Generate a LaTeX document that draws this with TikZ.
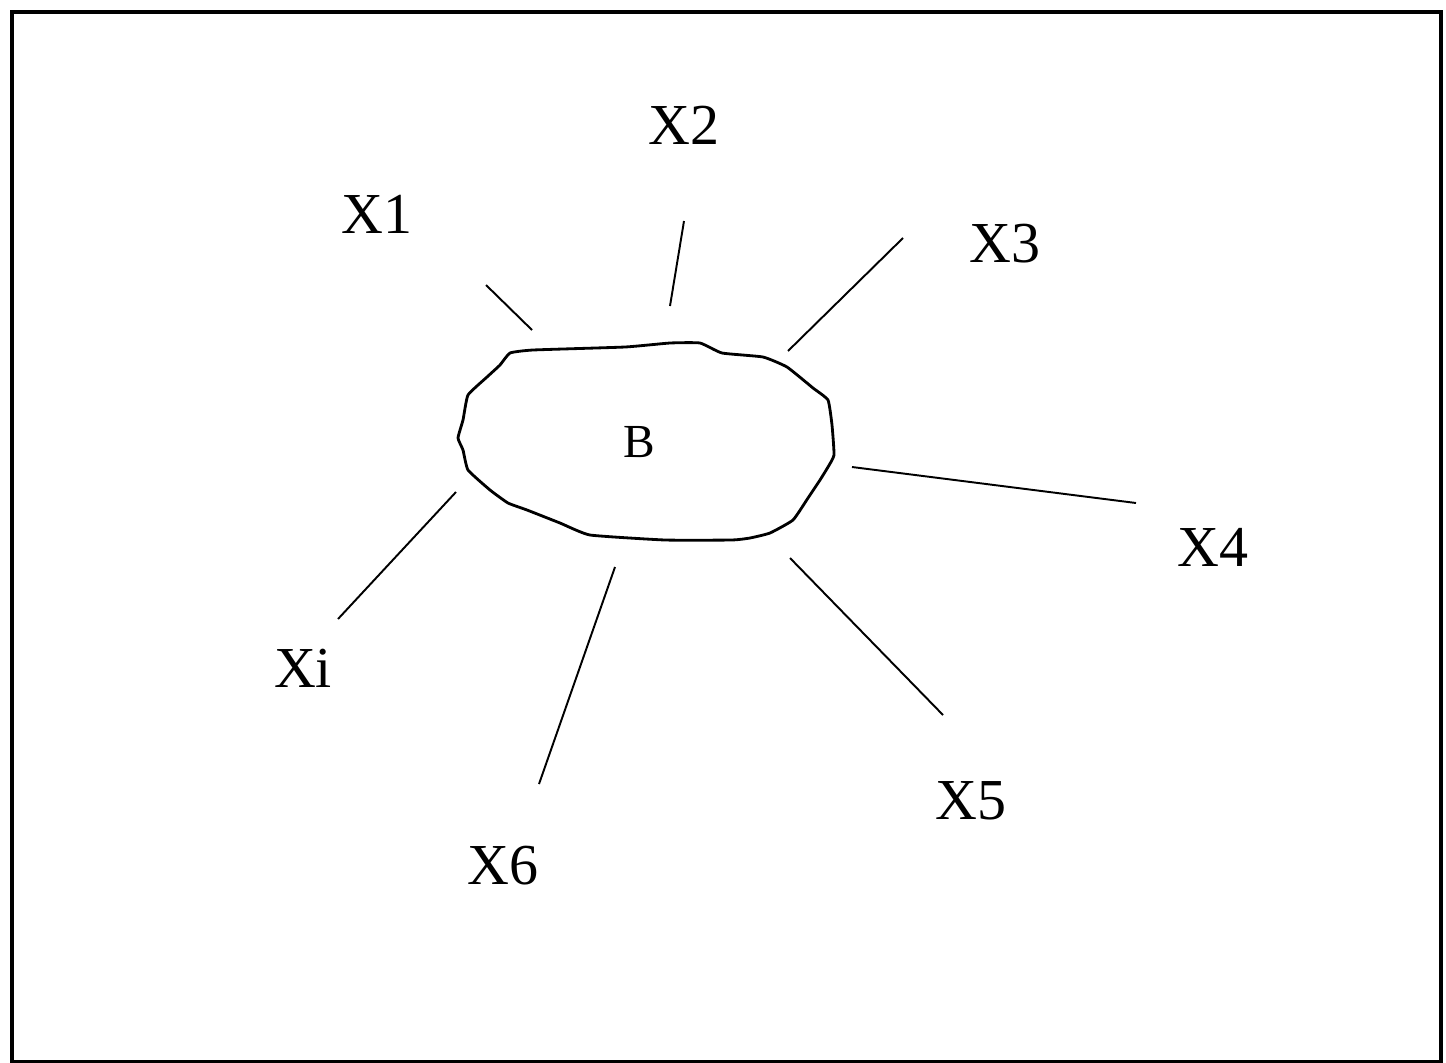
\documentclass[tikz,border=0pt]{standalone}
\usepackage{fontspec}
\setmainfont{Liberation Serif}
\tikzset{
  spoke/.style={line width=1.1pt},
  xlabel/.style={font=\fontsize{33}{38}\selectfont, inner sep=0pt},
}
\begin{document}
\begin{tikzpicture}[x=0.02cm,y=-0.02cm]
    \useasboundingbox (0,0) rectangle (1446,1062);
    \draw[line width=2.6pt] (12,12) rectangle (1441,1062);
    % the region
    \draw[line width=1.6pt] plot[smooth cycle, tension=0.25] coordinates {
      (510,353) (533,350) (625,347) (670,343) (700,343) (722,353) (763,357)
      (787,367) (813,388) (828,400) (832,425) (834,455) (828,467) (820,480)
      (808,498) (793,520) (770,533) (750,538) (732,540) (665,540) (590,535)
      (560,523) (527,510) (508,503) (490,490) (468,470) (463,450) (458,438)
      (463,420) (468,395) (487,377) (500,365)};
    \node[font=\fontsize{27}{32}\selectfont, inner sep=0pt] (B) at (639,442) {B};
    % labels
    \node[xlabel] (X1) at (377,214) {X1};
    \node[xlabel] (X2) at (684,125) {X2};
    \node[xlabel] (X3) at (1005,244) {X3};
    \node[xlabel] (X4) at (1213,547) {X4};
    \node[xlabel] (X5) at (971,801) {X5};
    \node[xlabel] (X6) at (503,866) {X6};
    \node[xlabel] (Xi) at (303,668) {Xi};
    % spokes
    \foreach \n/\a/\b in {1/{486,285}/{532,330}, 2/{684,221}/{670,306},
        3/{903,238}/{788,351}, 4/{1136,503}/{852,467},
        5/{943,715}/{790,558}, 6/{539,784}/{615,567},
        i/{338,619}/{456,492}} {
      \coordinate (o\n) at (\a);
      \coordinate (e\n) at (\b);
      \draw[spoke] (o\n) -- (e\n);
    }
  \end{tikzpicture}
\end{document}
